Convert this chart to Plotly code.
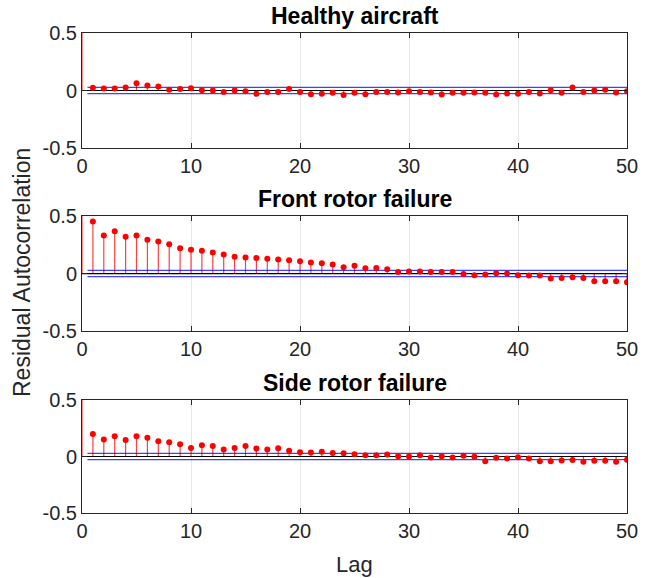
import plotly.graph_objects as go

# Residual autocorrelation at lags 0..50 for three flight conditions
lags = list(range(0, 51))

healthy = [1.0,
           0.023, 0.017, 0.017, 0.026, 0.064, 0.043, 0.035, 0.006, 0.012, 0.020,
           0.003, 0.000, -0.012, 0.000, -0.006, -0.029, -0.014, -0.014, 0.014, -0.014,
           -0.032, -0.029, -0.020, -0.040, -0.020, -0.032, -0.012, -0.012, -0.017, -0.006,
           -0.012, -0.017, -0.035, -0.020, -0.020, -0.017, -0.020, -0.035, -0.026, -0.029,
           -0.012, -0.026, 0.003, -0.020, 0.026, -0.012, 0.000, 0.006, -0.017, -0.006]

front_rotor = [1.0,
               0.452, 0.330, 0.368, 0.319, 0.330, 0.293, 0.278, 0.255, 0.220, 0.206,
               0.197, 0.183, 0.165, 0.145, 0.139, 0.136, 0.128, 0.122, 0.116, 0.107,
               0.096, 0.090, 0.078, 0.055, 0.067, 0.046, 0.049, 0.038, 0.014, 0.017,
               0.017, 0.014, 0.014, 0.014, -0.003, -0.014, -0.009, 0.003, 0.000, -0.014,
               -0.017, -0.017, -0.043, -0.038, -0.032, -0.038, -0.067, -0.067, -0.067, -0.075]

side_rotor = [1.0,
              0.200, 0.150, 0.179, 0.147, 0.179, 0.167, 0.135, 0.126, 0.109, 0.076,
              0.100, 0.094, 0.062, 0.076, 0.094, 0.070, 0.062, 0.073, 0.050, 0.038,
              0.035, 0.041, 0.032, 0.029, 0.021, 0.012, 0.012, 0.018, 0.003, 0.000,
              0.012, -0.009, 0.003, -0.009, 0.006, -0.003, -0.041, -0.012, -0.018, -0.006,
              -0.018, -0.041, -0.041, -0.035, -0.032, -0.047, -0.038, -0.038, -0.047, -0.029]

titles = ["Healthy aircraft", "Front rotor failure", "Side rotor failure"]
series = [healthy, front_rotor, side_rotor]

conf_bound = 0.027          # approximate 95% confidence bound
x_ticks = [0, 10, 20, 30, 40, 50]
y_ticks = [-0.5, 0, 0.5]
y_tick_text = ["-0.5", "0", "0.5"]

# Vertical extents of the three axes (paper fractions)
domains = [[0.7604, 1.0], [0.379, 0.6188], [0.0, 0.2354]]

FONT = "Liberation Sans, Arial, Helvetica, sans-serif"
AX_COLOR = "#262626"

fig = go.Figure()

for i, (vals, title) in enumerate(zip(series, titles)):
    n = i + 1
    xa = "x" if n == 1 else f"x{n}"
    ya = "y" if n == 1 else f"y{n}"

    # stems
    sx, sy = [], []
    for lag, v in zip(lags, vals):
        sx += [lag, lag, None]
        sy += [0, v, None]
    fig.add_trace(go.Scatter(x=sx, y=sy, mode="lines",
                             line=dict(color="rgba(255,0,0,0.75)", width=1.2),
                             xaxis=xa, yaxis=ya, showlegend=False, hoverinfo="skip"))
    # zero reference line
    fig.add_trace(go.Scatter(x=[0, 50], y=[0, 0], mode="lines",
                             line=dict(color="black", width=1.2),
                             xaxis=xa, yaxis=ya, showlegend=False, hoverinfo="skip"))
    # confidence bounds
    for b in (conf_bound, -conf_bound):
        fig.add_trace(go.Scatter(x=[0.5, 50], y=[b, b], mode="lines",
                                 line=dict(color="rgba(0,0,255,0.75)", width=1.3),
                                 xaxis=xa, yaxis=ya, showlegend=False, hoverinfo="skip"))
    # markers
    fig.add_trace(go.Scatter(x=lags, y=vals, mode="markers",
                             marker=dict(color="red", size=6),
                             xaxis=xa, yaxis=ya, showlegend=False))

    axis_common = dict(showline=True, linecolor=AX_COLOR, linewidth=1, mirror="ticks",
                       ticks="inside", ticklen=5, tickcolor=AX_COLOR,
                       tickfont=dict(family=FONT, size=20, color=AX_COLOR),
                       zeroline=False)
    fig.update_layout(**{
        ("xaxis" if n == 1 else f"xaxis{n}"): dict(
            axis_common, domain=[0, 1], range=[0, 50], tickvals=x_ticks,
            showgrid=True, gridcolor="#e6e6e6", gridwidth=1,
            anchor=ya),
        ("yaxis" if n == 1 else f"yaxis{n}"): dict(
            axis_common, domain=domains[i], range=[-0.5, 0.5],
            tickvals=y_ticks, ticktext=y_tick_text, showgrid=False,
            anchor=xa),
    })

    fig.add_annotation(text=f"<b>{title}</b>", x=0.5, y=domains[i][1],
                       xref="paper", yref="paper", xanchor="center", yanchor="bottom",
                       yshift=2, showarrow=False,
                       font=dict(family=FONT, size=23, color="black"))

# y-axis label, placed to the left of the tick labels
fig.add_annotation(text="Residual Autocorrelation", x=-60 / 545, y=0.5,
                   xref="paper", yref="paper", xanchor="center", showarrow=False,
                   textangle=-90, font=dict(family=FONT, size=23, color=AX_COLOR))
fig.add_annotation(text="Lag", x=0.5, y=0, xref="paper", yref="paper",
                   xanchor="center", yanchor="top", yshift=-37, showarrow=False,
                   font=dict(family=FONT, size=22, color=AX_COLOR))

fig.update_layout(width=651, height=578,
                  margin=dict(l=82, r=24, t=33, b=65),
                  paper_bgcolor="white", plot_bgcolor="white")

fig.write_html("out.html")
